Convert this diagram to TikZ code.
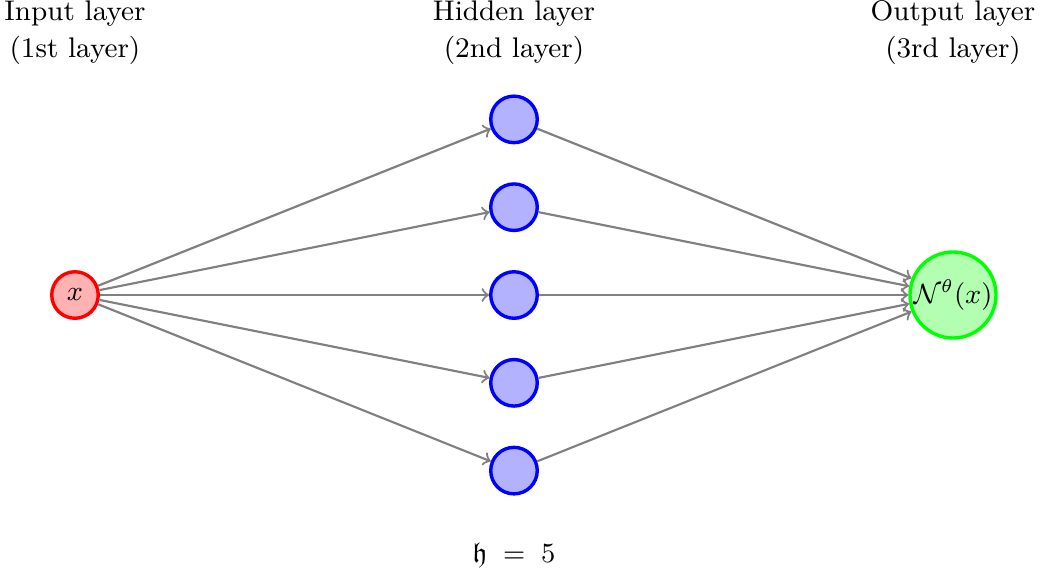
\documentclass[tikz,border=0pt]{standalone}
\usepackage{amssymb}
\begin{document}
\begin{tikzpicture}[
  every node/.style={font=\fontsize{9.2pt}{11.9pt}\selectfont},
  neuron/.style={circle, line width=1.1pt, inner sep=0pt, minimum size=0.53cm},
  inputn/.style={neuron, draw=red, fill=red!30},
  hiddenn/.style={neuron, draw=blue, fill=blue!30},
  outputn/.style={neuron, draw=green, fill=green!30, minimum size=0.98cm},
  conn/.style={->, gray, line width=0.7pt},
  layerlabel/.style={align=center}
]
\useasboundingbox (-0.854,-3.212) rectangle (11.002,3.36);
\node[inputn] (I) at (0,0) {$x$};
\foreach \i/\y in {1/2,2/1,3/0,4/-1,5/-2}
  \node[hiddenn] (H\i) at (5,\y) {};
\node[outputn] (O) at (10,0) {$\mathcal{N}^\theta(x)$};
\foreach \i in {1,...,5} {
  \draw[conn] (I) -- (H\i);
  \draw[conn] (H\i) -- (O);
}
\node[layerlabel] (LI) at (0,2.99) {Input layer\\(1st layer)};
\node[layerlabel] (LH) at (5,2.99) {Hidden layer\\(2nd layer)};
\node[layerlabel] (LO) at (10,2.99) {Output layer\\(3rd layer)};
\node (HB) at (5,-2.96) {$\mathfrak{h}\;=\;5$};
\end{tikzpicture}
\end{document}
